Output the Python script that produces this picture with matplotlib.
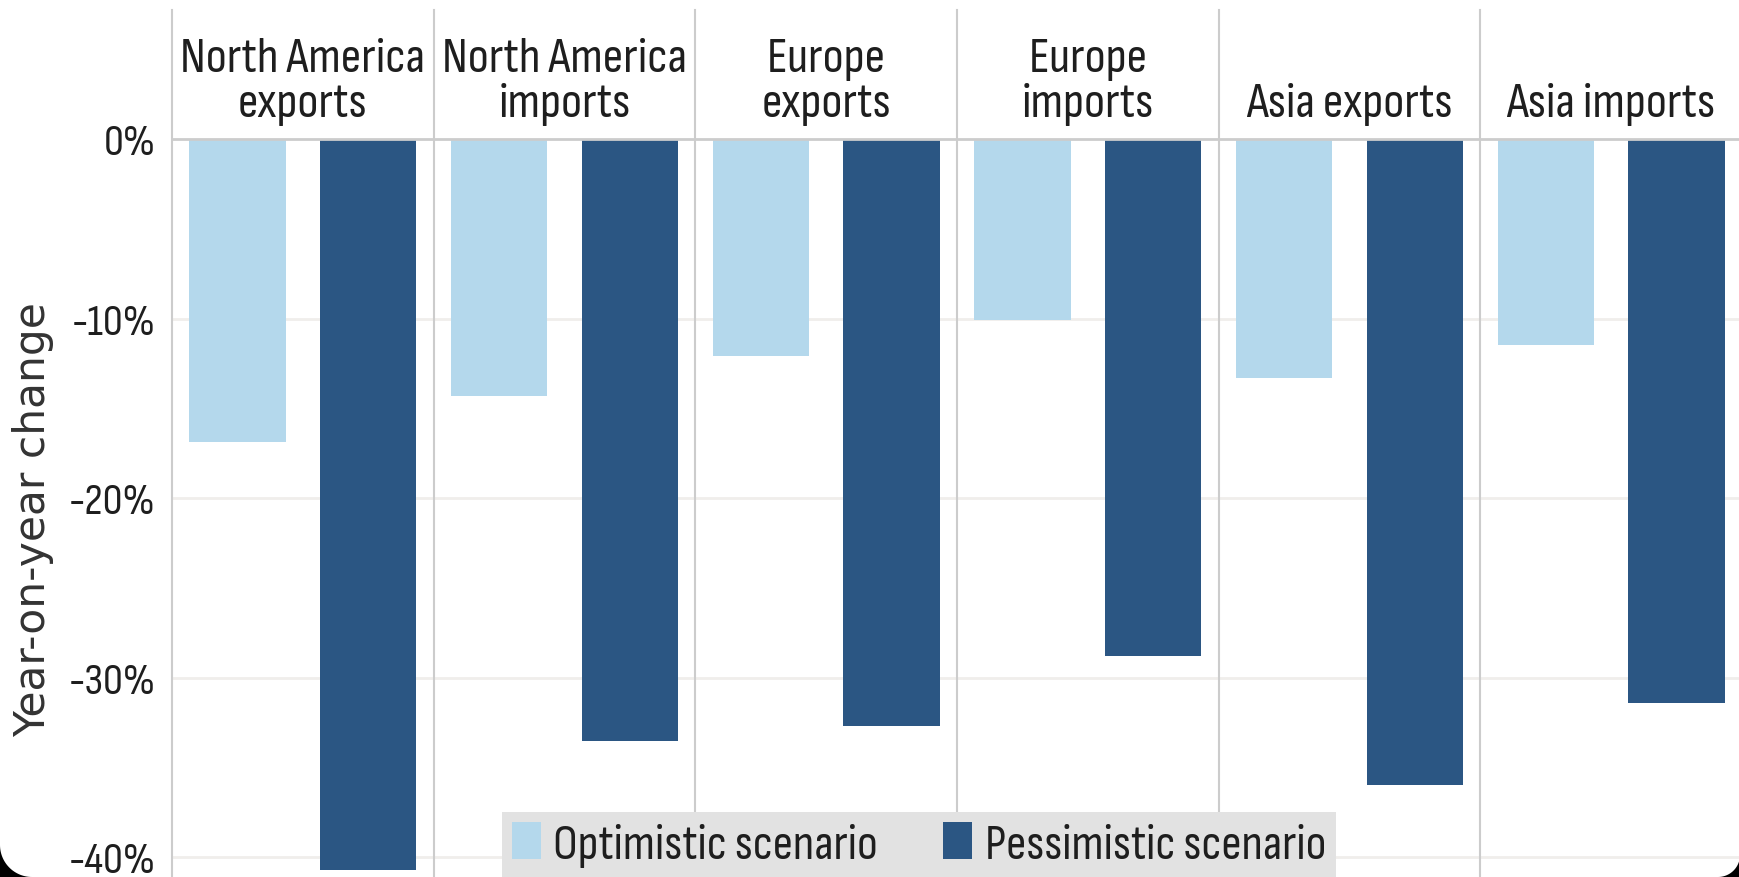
import matplotlib
matplotlib.use("Agg")
import matplotlib.pyplot as plt
from matplotlib.patches import Patch, Polygon
import numpy as np

# =========================
# DADOS
# =========================
groups = ["North America\nexports", "North America\nimports", "Europe\nexports",
          "Europe\nimports", "Asia exports", "Asia imports"]
optimistic = [-16.9, -14.3, -12.1, -10.1, -13.3, -11.5]
pessimistic = [-40.7, -33.5, -32.7, -28.8, -36.0, -31.4]
series_names = ["Optimistic scenario", "Pessimistic scenario"]
yticks = [0, -10, -20, -30, -40]
ytick_labels = ["0%", "-10%", "-20%", "-30%", "-40%"]

LIGHT = "#b4d8ec"
DARK = "#2b5683"
LINE = "#cccccc"

plt.rcParams["font.family"] = ["Sofia Sans Condensed", "Liberation Sans", "DejaVu Sans"]

W, H = 1740, 878
fig = plt.figure(figsize=(W / 100, H / 100), dpi=100)
fig.patch.set_facecolor("white")

# eixo: da divisoria do 1o painel ate a borda, do fundo ate a linha do 0%
ax_left = 172 / W
ax_top = (H - 140) / H
ax = fig.add_axes([ax_left, 0, 1742 / W - ax_left, ax_top])

n = len(groups)
x = np.arange(n)
ax.bar(x + 0.25, optimistic, width=0.368, color=LIGHT, zorder=3)
ax.bar(x + 0.75, pessimistic, width=0.368, color=DARK, zorder=3)

ax.set_xlim(0, n)
ax.set_ylim(-41.1, 0)

# grade horizontal clara
for t in yticks[1:]:
    ax.axhline(t, color="#f0eeeb", lw=2, zorder=1)
ax.axhline(0, color=LINE, lw=2, zorder=4, clip_on=False)

# divisorias verticais dos paineis (sobem ate o cabecalho)
top_y = 1 + (140 - 11) / (H - 140)
for i in range(n + 1):
    ax.plot([i, i], [0, top_y], color=LINE, lw=1.5,
            transform=ax.get_xaxis_transform(), clip_on=False, zorder=2)

# cabecalhos
head_y = 1 + (140 - 126) / (H - 140)
for i, g in enumerate(groups):
    ax.text(i + 0.5, head_y, g, transform=ax.get_xaxis_transform(),
            ha="center", va="bottom", fontsize=36.5, color="#1e1e1e",
            linespacing=1.05)

ax.set_xticks([])
ax.set_yticks(yticks)
ax.set_yticklabels(ytick_labels, fontsize=32, color="#1e1e1e")
ax.tick_params(axis="y", length=0, pad=12)
for s in ax.spines.values():
    s.set_visible(False)

fig.text(33 / W, (H - 520) / H, "Year-on-year change", rotation=90,
         ha="center", va="center", fontsize=30.5, color="#333333",
         family="DejaVu Sans")

# legenda
handles = [Patch(facecolor=LIGHT, edgecolor="none"),
           Patch(facecolor=DARK, edgecolor="none")]
leg = fig.legend(handles, series_names, loc="lower center",
                 bbox_to_anchor=(919 / W, 0), ncol=2, fontsize=36,
                 frameon=True, fancybox=False, facecolor="#e2e2e2",
                 edgecolor="none", framealpha=1, handlelength=0.58,
                 handleheight=0.78, handletextpad=0.25, columnspacing=1.3,
                 borderpad=0.2, borderaxespad=0)
for t in leg.get_texts():
    t.set_color("#1e1e1e")

# cantos pretos arredondados da captura
def corner(cx, cy, r, a0, a1, px, py):
    ang = np.linspace(np.radians(a0), np.radians(a1), 30)
    pts = [(px, py)] + [(cx + r * np.cos(a), cy + r * np.sin(a)) for a in ang]
    pts = [(u / W, v / H) for u, v in pts]
    fig.add_artist(Polygon(pts, closed=True, facecolor="black",
                           edgecolor="none", transform=fig.transFigure, zorder=10))

corner(32, 32, 32, 180, 270, 0, 0)
corner(W - 22, 22, 22, 270, 360, W, 0)

fig.savefig("out.png", dpi=100, facecolor=fig.get_facecolor())
